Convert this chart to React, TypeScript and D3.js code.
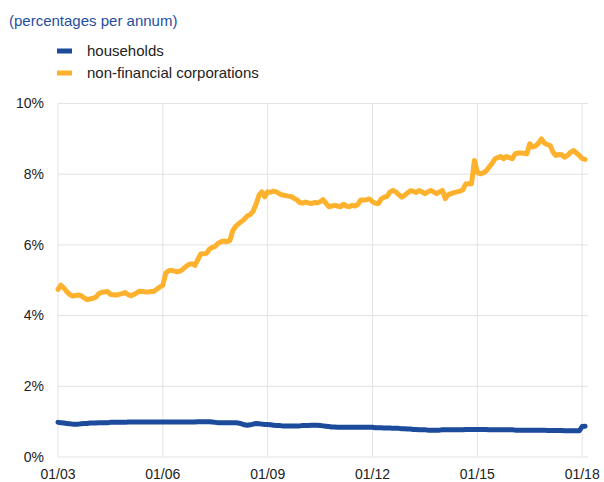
import { line, scaleLinear } from 'd3'

// monthly observations, Jan 2003 – Feb 2018
const startYear = 2003
const households = [
  0.98, 0.97, 0.96, 0.95, 0.94, 0.93, 0.93, 0.93, 0.94, 0.95, 0.95, 0.96,
  0.96, 0.96, 0.97, 0.97, 0.97, 0.97, 0.98, 0.98, 0.98, 0.98, 0.98, 0.98,
  0.99, 0.99, 0.99, 0.99, 0.99, 0.99, 0.99, 0.99, 0.99, 0.99, 0.99, 0.99,
  0.99, 0.99, 0.99, 0.99, 0.99, 0.99, 0.99, 0.99, 0.99, 0.99, 0.99, 0.99,
  1.0, 1.0, 1.0, 1.0, 1.0, 0.99, 0.98, 0.97, 0.97, 0.97, 0.97, 0.97,
  0.97, 0.97, 0.96, 0.94, 0.91, 0.9, 0.91, 0.93, 0.95, 0.94, 0.93, 0.92,
  0.92, 0.91, 0.9, 0.89, 0.89, 0.88, 0.88, 0.88, 0.88, 0.88, 0.88, 0.88,
  0.89, 0.89, 0.89, 0.9, 0.9, 0.9, 0.89, 0.88, 0.87, 0.86, 0.85, 0.85,
  0.84, 0.84, 0.84, 0.84, 0.84, 0.84, 0.84, 0.84, 0.84, 0.84, 0.84, 0.84,
  0.84, 0.83, 0.83, 0.83, 0.82, 0.82, 0.82, 0.81, 0.81, 0.81, 0.8, 0.8,
  0.79, 0.79, 0.78, 0.78, 0.77, 0.77, 0.77, 0.76, 0.76, 0.76, 0.76, 0.76,
  0.77, 0.77, 0.77, 0.77, 0.77, 0.77, 0.77, 0.77, 0.78, 0.78, 0.78, 0.78,
  0.78, 0.78, 0.78, 0.78, 0.77, 0.77, 0.77, 0.77, 0.77, 0.77, 0.77, 0.77,
  0.77, 0.76, 0.76, 0.76, 0.76, 0.76, 0.76, 0.76, 0.76, 0.76, 0.76, 0.76,
  0.75, 0.75, 0.75, 0.75, 0.75, 0.75, 0.74, 0.74, 0.74, 0.74, 0.74, 0.74,
  0.86, 0.87,
]
const corporations = [
  4.74, 4.86, 4.78, 4.68, 4.6, 4.55, 4.57, 4.58, 4.56, 4.5, 4.45, 4.47,
  4.49, 4.52, 4.62, 4.66, 4.67, 4.68, 4.6, 4.59, 4.58, 4.6, 4.62, 4.65,
  4.6, 4.56, 4.6, 4.64, 4.69, 4.68, 4.67, 4.67, 4.68, 4.69, 4.75, 4.81,
  4.86, 5.2, 5.27, 5.28, 5.26, 5.24, 5.26, 5.32, 5.39, 5.45, 5.47, 5.42,
  5.58, 5.74, 5.75, 5.76, 5.88, 5.93, 5.96, 6.05, 6.09, 6.11, 6.09, 6.12,
  6.4, 6.52, 6.6, 6.66, 6.73, 6.82, 6.86, 6.95, 7.15, 7.4, 7.5, 7.36,
  7.5, 7.49, 7.52, 7.5, 7.45, 7.41, 7.4, 7.38, 7.37, 7.32, 7.28, 7.2,
  7.18, 7.21, 7.19, 7.17, 7.2, 7.19, 7.22, 7.28, 7.18, 7.08, 7.1, 7.12,
  7.1, 7.08, 7.15, 7.1, 7.08, 7.12, 7.1, 7.15, 7.27, 7.27, 7.28, 7.3,
  7.22, 7.18, 7.17, 7.3, 7.35, 7.37, 7.5, 7.54, 7.5, 7.42, 7.35, 7.4,
  7.47, 7.53, 7.52, 7.48, 7.54, 7.5, 7.45, 7.5, 7.54, 7.5, 7.45, 7.5,
  7.54, 7.31, 7.42, 7.45, 7.48, 7.5, 7.52, 7.56, 7.72, 7.73, 7.73, 8.39,
  8.05, 8.01, 8.04, 8.09, 8.2, 8.3, 8.43, 8.47, 8.5, 8.44, 8.5, 8.47,
  8.44, 8.58, 8.6, 8.6, 8.59, 8.58, 8.86, 8.77, 8.8, 8.88, 9.0, 8.88,
  8.84, 8.81, 8.62, 8.53, 8.56, 8.55, 8.48, 8.53, 8.62, 8.67, 8.6, 8.53,
  8.44, 8.42,
]
const seriesNames = ['households', 'non-financial corporations']
const yTicks = [0, 2, 4, 6, 8, 10]
const xTickYears = [2003, 2006, 2009, 2012, 2015, 2018]
const title = '(percentages per annum)'

const colors = ['#1d4b9c', '#fdb12c']
const font = '"Liberation Sans", Arial, sans-serif'

const plot = { left: 58, right: 588, top: 103.5, bottom: 457 }

export default function App() {
  const x = scaleLinear().domain([0, 182]).range([plot.left, plot.right])
  const y = scaleLinear().domain([0, 10]).range([plot.bottom, plot.top])
  const path = line<number>()
    .x((_, i) => x(i))
    .y(d => y(d))

  const series = [households, corporations]

  return (
    <svg
      width={604}
      height={482}
      style={{ position: 'absolute', left: 0, top: 0, fontFamily: font }}
    >
      <text x={9} y={26} fontSize={15} fill="#1f4ea0">
        {title}
      </text>

      {seriesNames.map((name, i) => (
        <g key={name} transform={`translate(0, ${51 + i * 22})`}>
          <rect x={57} y={-2.5} width={15} height={5} fill={colors[i]} />
          <text x={87} y={5} fontSize={15} fill="#222">
            {name}
          </text>
        </g>
      ))}

      {yTicks.map(t => (
        <g key={t}>
          <line x1={plot.left} x2={plot.right} y1={y(t)} y2={y(t)} stroke="#e3e3e3" />
          <text x={44} y={y(t)} dy="0.34em" textAnchor="end" fontSize={14} fill="#222">
            {t}%
          </text>
        </g>
      ))}

      {xTickYears.map(yr => {
        const px = x((yr - startYear) * 12)
        return (
          <g key={yr}>
            <line x1={px} x2={px} y1={plot.top} y2={plot.bottom} stroke="#e3e3e3" />
            <text x={px} y={479} textAnchor="middle" fontSize={14} fill="#222">
              01/{String(yr % 100).padStart(2, '0')}
            </text>
          </g>
        )
      })}

      {series.map((s, i) => (
        <path
          key={i}
          d={path(s) ?? ''}
          fill="none"
          stroke={colors[i]}
          strokeWidth={5}
          strokeLinejoin="round"
          strokeLinecap="round"
        />
      ))}
    </svg>
  )
}
